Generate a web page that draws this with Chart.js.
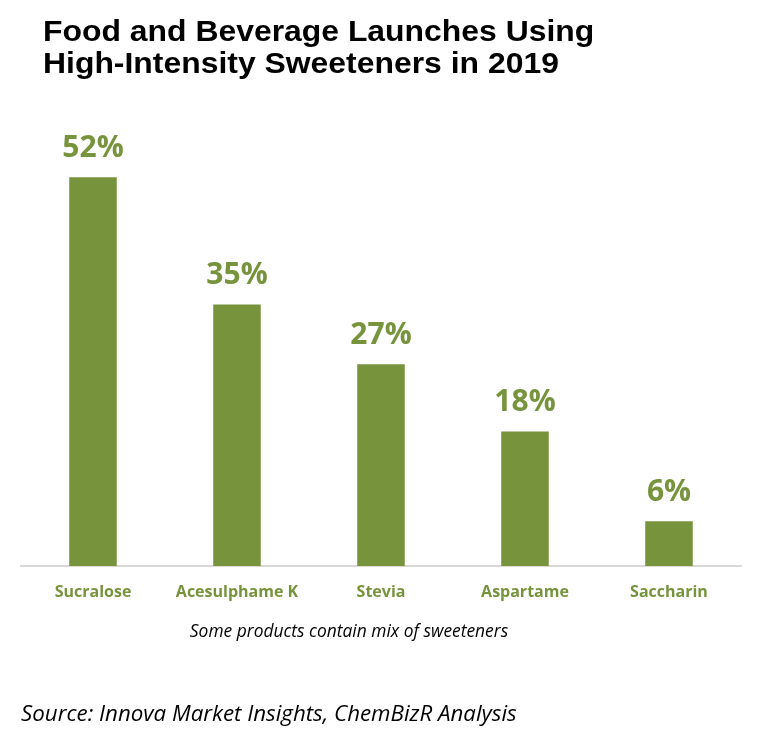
<!DOCTYPE html>
<html>
<head>
<meta charset="utf-8">
<script src="https://cdn.jsdelivr.net/npm/chart.js@4.4.6/dist/chart.umd.min.js"></script>
<style>
  html, body { margin: 0; padding: 0; background: #fff; }
  #wrap { position: relative; width: 764px; height: 746px; overflow: hidden; }
  #grafica { position: absolute; left: 0; top: 0; }
  .titulo {
    position: absolute; left: 43px; top: 15px; margin: 0; white-space: nowrap;
    font-family: "Liberation Sans", Arial, sans-serif; font-weight: bold;
    font-size: 29px; line-height: 32px; color: #000;
    transform: scaleX(1.1); transform-origin: left top;
  }
  .nota {
    position: absolute; left: 0; width: 698px; top: 618px; text-align: center;
    font-family: "Open Sans", sans-serif; font-style: italic; font-size: 17.4px; color: #000;
  }
  .fuente {
    position: absolute; left: 21px; top: 697px;
    font-family: "Open Sans", sans-serif; font-style: italic; font-size: 22.3px; color: #000;
  }
</style>
</head>
<body>
<div id="wrap">
  <canvas id="grafica" width="764" height="746"></canvas>
  <h1 class="titulo">Food and Beverage Launches Using<br>High-Intensity Sweeteners in 2019</h1>
  <div class="nota">Some products contain mix of sweeteners</div>
  <div class="fuente">Source: Innova Market Insights, ChemBizR Analysis</div>
</div>
<script>
const endulzantes = ["Sucralose", "Acesulphame K", "Stevia", "Aspartame", "Saccharin"];
const porcentajes = [52, 35, 27, 18, 6];

const verde = "#77933c";

// etiquetas de porcentaje encima de cada barra
const etiquetasValor = {
    id: 'etiquetasValor',
    afterDatasetsDraw(chart) {
        const ctx = chart.ctx;
        const meta = chart.getDatasetMeta(0);
        ctx.save();
        ctx.font = 'bold 30px "Open Sans", sans-serif';
        ctx.fillStyle = verde;
        ctx.textAlign = 'center';
        ctx.textBaseline = 'alphabetic';
        meta.data.forEach((barra, i) => {
            ctx.fillText(porcentajes[i] + '%', barra.x, barra.y - 20.5);
        });
        ctx.restore();
    }
};

const ctx = document.getElementById('grafica').getContext('2d');
new Chart(ctx, {
    type: 'bar',
    data: {
        labels: endulzantes,
        datasets: [{
            data: porcentajes,
            backgroundColor: verde,
            borderWidth: 0,
            categoryPercentage: 1,
            barPercentage: 0.33
        }]
    },
    options: {
        responsive: false,
        animation: false,
        devicePixelRatio: 1,
        layout: { padding: { left: 21, right: 23, top: 117.5, bottom: 140 } },
        plugins: {
            legend: { display: false },
            tooltip: { enabled: false }
        },
        scales: {
            x: {
                grid: { display: false, drawTicks: false },
                border: { color: '#d9d9d9', width: 2 },
                ticks: {
                    color: verde,
                    font: { family: '"Open Sans", sans-serif', weight: 'bold', size: 16 },
                    padding: 17,
                    maxRotation: 0,
                    autoSkip: false
                },
                afterFit(escala) { escala.height = 40; }
            },
            y: {
                display: false,
                min: 0,
                max: 60
            }
        }
    },
    plugins: [etiquetasValor]
});
</script>
</body>
</html>
